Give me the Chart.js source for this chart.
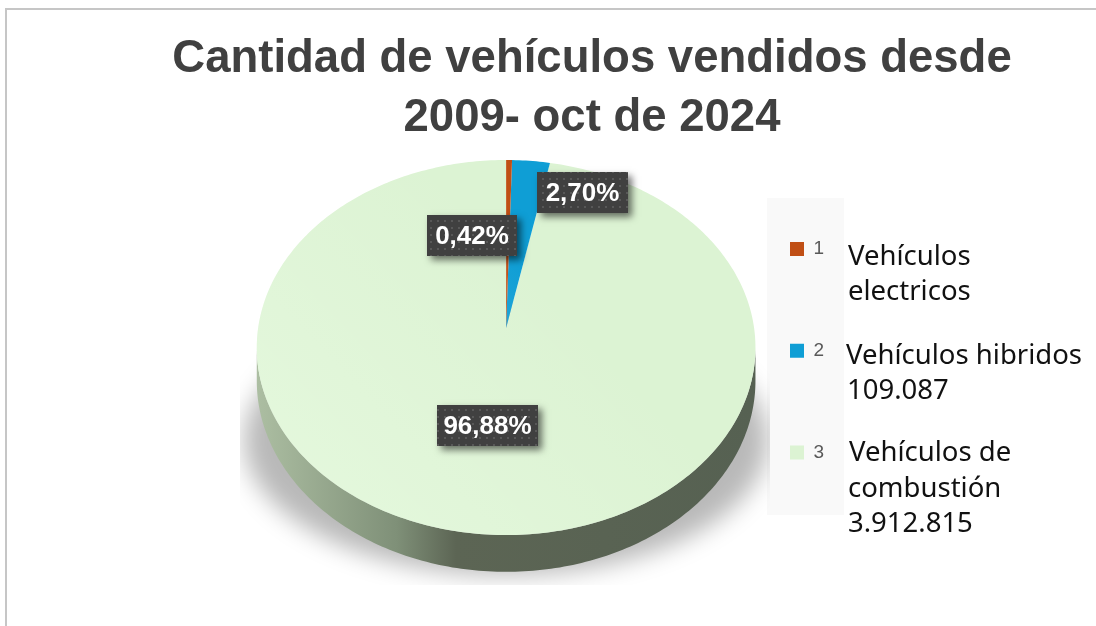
<!DOCTYPE html>
<html lang="es">
<head>
<meta charset="UTF-8">
<title>Cantidad de vehículos vendidos</title>
<style>
  html, body { margin: 0; background: #fff; }
  #wrap { position: relative; width: 1096px; height: 626px; }
</style>
</head>
<body>
<div id="wrap"><canvas id="myChart" width="1096" height="626"></canvas></div>
<script src="https://cdn.jsdelivr.net/npm/chart.js"></script>
<script>
const categorias = ['1', '2', '3'];
const vendidos = [16970, 109087, 3912815];
const colores = ['#C04F15', '#0F9ED5', '#DCF3D3'];
const tituloLineas = ['Cantidad de vehículos vendidos desde', '2009- oct de 2024'];

// cajas de texto sueltas al lado de la leyenda: [texto, x, y base]
const notas = [
  ['Vehículos', 848, 265], ['electricos', 848, 300],
  ['Vehículos hibridos', 846, 364], ['109.087', 847, 399],
  ['Vehículos de', 849, 461], ['combustión', 848, 497], ['3.912.815', 848, 532]
];
// etiquetas movidas a mano: [x, y, ancho, alto]
const cajas = [[427, 215, 90, 41], [537, 172, 91, 41], [437, 405, 101, 41]];

const total = vendidos.reduce((a, b) => a + b, 0);
const porcentajes = vendidos.map(v => (v / total * 100).toFixed(2).replace('.', ',') + '%');

// perspectiva de la torta
const K = -0.104, APLASTE = 0.748, PROFUNDIDAD = 33;

function proyectar(arc, ang, bajar) {
  const u = Math.cos(ang), v = Math.sin(ang), d = 1 + K * v;
  return {
    x: arc.x + arc.outerRadius * u / d,
    y: arc.y + arc.outerRadius * APLASTE * v / d + (bajar ? PROFUNDIDAD / d : 0)
  };
}

function trama(ctx) {
  const c = document.createElement('canvas');
  c.width = 7; c.height = 7;
  const p = c.getContext('2d');
  p.fillStyle = '#404040'; p.fillRect(0, 0, 7, 7);
  p.fillStyle = '#585858'; p.fillRect(3, 3, 2, 2);
  return ctx.createPattern(c, 'repeat');
}

const torta3d = {
  id: 'torta3d',
  afterLayout(chart) {
    // titulo y leyenda no van donde los deja el layout
    chart.titleBlock.left = 88;
    chart.titleBlock.right = 1096;
    const pad = chart.legend.options.labels.padding;
    chart.legend.left = 790 - pad;
    chart.legend.right = chart.legend.left + chart.legend.width;
    chart.legend.top = 239.6 - pad;
    chart.legend.bottom = chart.legend.top + chart.legend.height;
  },
  beforeDraw(chart) {
    const ctx = chart.ctx;
    ctx.save();
    ctx.fillStyle = '#fff';
    ctx.fillRect(0, 0, 1096, 626);
    ctx.fillStyle = '#C6C6C6';
    ctx.fillRect(5, 8, 1091, 2);
    ctx.fillRect(5, 8, 2, 618);
    ctx.fillStyle = '#F9F9F9';
    ctx.fillRect(767, 198, 77, 317);
    ctx.restore();
  },
  beforeDatasetsDraw(chart) {
    const ctx = chart.ctx;
    const arcos = chart.getDatasetMeta(0).data;
    const base = arcos[0];
    ctx.save();

    // sombra bajo la torta (solo la sombra, la elipse queda fuera del lienzo)
    ctx.save();
    ctx.beginPath();
    ctx.rect(240, 300, 530, 285);
    ctx.clip();
    ctx.shadowColor = 'rgba(0,0,0,0.28)';
    ctx.shadowBlur = 24;
    ctx.shadowOffsetX = 2000;
    ctx.fillStyle = '#000';
    ctx.beginPath();
    ctx.ellipse(506 - 2000, 440, 262, 135, 0, 0, Math.PI * 2);
    ctx.fill();
    ctx.restore();

    // pared lateral
    const ini = 0.104, fin = Math.PI - 0.104, pasos = 180;
    ctx.beginPath();
    for (let i = 0; i <= pasos; i++) {
      const p = proyectar(base, ini + (fin - ini) * i / pasos, false);
      ctx.lineTo(p.x, p.y);
    }
    for (let i = pasos; i >= 0; i--) {
      const p = proyectar(base, ini + (fin - ini) * i / pasos, true);
      ctx.lineTo(p.x, p.y);
    }
    ctx.closePath();
    const pared = ctx.createLinearGradient(257, 0, 755, 0);
    pared.addColorStop(0, '#ACBEA2');
    pared.addColorStop(0.28, '#7F9078');
    pared.addColorStop(0.4, '#5C6554');
    pared.addColorStop(1, '#566152');
    ctx.fillStyle = pared;
    ctx.fill();

    // tapa: cada porcion con los angulos que calculo Chart.js
    arcos.slice().reverse().forEach(arc => {
      const n = Math.max(2, Math.ceil((arc.endAngle - arc.startAngle) * 60));
      ctx.beginPath();
      ctx.moveTo(arc.x, arc.y);
      for (let j = 0; j <= n; j++) {
        const p = proyectar(arc, arc.startAngle + (arc.endAngle - arc.startAngle) * j / n, false);
        ctx.lineTo(p.x, p.y);
      }
      ctx.closePath();
      ctx.fillStyle = arc.options.backgroundColor;
      ctx.fill();
    });

    // brillo suave abajo a la izquierda
    const brillo = ctx.createLinearGradient(330, 520, 560, 300);
    brillo.addColorStop(0, 'rgba(240,255,235,0.38)');
    brillo.addColorStop(1, 'rgba(240,255,235,0)');
    ctx.beginPath();
    for (let j = 0; j <= 360; j++) {
      const p = proyectar(base, j * Math.PI / 180, false);
      ctx.lineTo(p.x, p.y);
    }
    ctx.closePath();
    ctx.fillStyle = brillo;
    ctx.fill();
    ctx.restore();
    return false;
  },
  afterDraw(chart) {
    const ctx = chart.ctx;
    ctx.save();
    const relleno = trama(ctx);
    cajas.forEach((c, i) => {
      ctx.save();
      ctx.shadowColor = 'rgba(0,0,0,0.55)';
      ctx.shadowBlur = 7;
      ctx.shadowOffsetX = 4;
      ctx.shadowOffsetY = 4;
      ctx.fillStyle = '#404040';
      ctx.fillRect(c[0], c[1], c[2], c[3]);
      ctx.restore();
      ctx.fillStyle = relleno;
      ctx.fillRect(c[0], c[1], c[2], c[3]);
      ctx.fillStyle = '#fff';
      ctx.font = 'bold 26px "Liberation Sans"';
      ctx.textAlign = 'center';
      ctx.textBaseline = 'middle';
      ctx.fillText(porcentajes[i], c[0] + c[2] / 2, c[1] + c[3] / 2 + 1);
    });
    ctx.fillStyle = '#111';
    ctx.font = '27.5px "Noto Sans"';
    ctx.textAlign = 'left';
    ctx.textBaseline = 'alphabetic';
    notas.forEach(n => ctx.fillText(n[0], n[1], n[2]));
    ctx.restore();
  }
};

new Chart(document.getElementById('myChart'), {
  type: 'pie',
  data: {
    labels: categorias,
    datasets: [{ data: vendidos, backgroundColor: colores, borderWidth: 0 }]
  },
  plugins: [torta3d],
  options: {
    responsive: false,
    animation: false,
    layout: { padding: { left: 258, right: 215, top: 30, bottom: 50 } },
    plugins: {
      tooltip: { enabled: false },
      title: {
        display: true,
        text: tituloLineas,
        color: '#404040',
        font: { family: '"Liberation Sans"', size: 45.5, weight: 'bold', lineHeight: 1.297 },
        padding: { top: 0, bottom: -68 }
      },
      legend: {
        position: 'right',
        align: 'start',
        labels: {
          boxWidth: 14,
          boxHeight: 14,
          padding: 82.7,
          color: '#595959',
          font: { family: '"Liberation Sans"', size: 19 }
        }
      }
    }
  }
});
</script>
</body>
</html>
